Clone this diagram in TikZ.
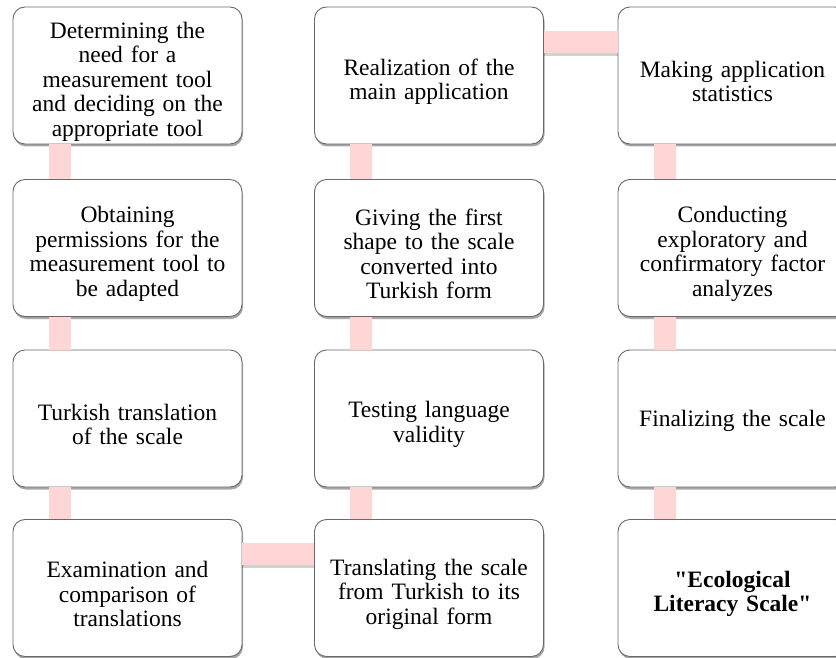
\documentclass[tikz,border=0pt]{standalone}
\usepackage{fontspec}
\setmainfont{Liberation Serif}[Ligatures=TeXOff]
\usetikzlibrary{shadows,calc}
\definecolor{barpink}{RGB}{255,214,214}
\definecolor{boxline}{RGB}{105,105,105}
\newcommand\stepboxend{\endgraf\vspace*{-12pt}}
\begin{document}
\begin{tikzpicture}[x=1pt,y=-1pt,
  stepbox/.style={rectangle, draw=boxline, line width=0.9pt, fill=white,
    rounded corners=12pt, minimum width=229pt, minimum height=137pt,
    text width=215pt, align=center, inner sep=0pt,
    font=\fontsize{23.5}{24.5}\selectfont,
    execute at end node={\stepboxend},
    drop shadow={shadow xshift=1pt, shadow yshift=-2.5pt, opacity=0.35, fill=black}},
  bar/.style={line width=22pt, draw=barpink},
  barshadow/.style={line width=22pt, draw=black, opacity=0.18},
]
\useasboundingbox (0,0) rectangle (836,658);
% column 1
\node[stepbox] (a1) at (127.5,75.5) {Determining the\\need for a\\measurement tool\\and deciding on the\\appropriate tool};
\node[stepbox] (a2) at (127.5,248) {Obtaining\\permissions for the\\measurement tool to\\be adapted};
\node[stepbox] (a3) at (127.5,418.5) {Turkish translation\\of the scale};
\node[stepbox] (a4) at (127.5,588) {Examination and\\comparison of\\translations};
% column 2
\node[stepbox] (b1) at (429,75.5) {Realization of the\\main application};
\node[stepbox] (b2) at (429,248) {Giving the first\\shape to the scale\\converted into\\Turkish form};
\node[stepbox] (b3) at (429,418.5) {Testing language\\validity};
\node[stepbox] (b4) at (429,588) {Translating the scale\\from Turkish to its\\original form};
% column 3
\node[stepbox] (c1) at (732.5,75.5) {Making application\\statistics};
\node[stepbox] (c2) at (732.5,248) {Conducting\\exploratory and\\confirmatory factor\\analyzes};
\node[stepbox] (c3) at (732.5,418.5) {Finalizing the scale};
\node[stepbox] (c4) at (732.5,588) {\textbf{"Ecological\\Literacy Scale"}};
% vertical connectors
\foreach \u/\v in {a1/a2,a2/a3,a3/a4,b1/b2,b2/b3,b3/b4,c1/c2,c2/c3,c3/c4}{
  \draw[bar] ($(\u.south west)+(47,0)$) -- ($(\v.north west)+(47,0)$);
}
% horizontal connectors
\draw[barshadow] ($(b1.north east)+(0,38)$) -- ($(c1.north west)+(0,38)$);
\draw[bar] ($(b1.north east)+(0,35.5)$) -- ($(c1.north west)+(0,35.5)$);
\draw[barshadow] ($(a4.north east)+(0,37.5)$) -- ($(b4.north west)+(0,37.5)$);
\draw[bar] ($(a4.north east)+(0,35)$) -- ($(b4.north west)+(0,35)$);
\end{tikzpicture}
\end{document}
